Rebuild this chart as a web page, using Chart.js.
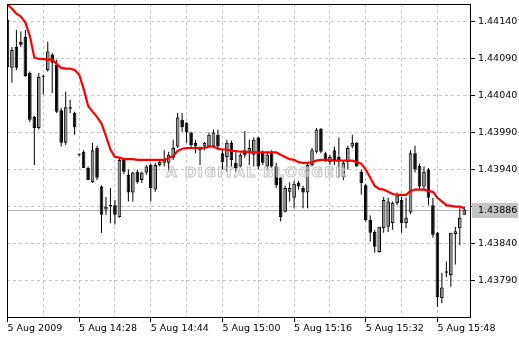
<!DOCTYPE html>
<html>
<head>
<meta charset="utf-8">
<script src="https://cdn.jsdelivr.net/npm/chart.js@4.4.1/dist/chart.umd.min.js"></script>
<style>
    html, body { margin: 0; padding: 0; background: #ffffff; }
    #grafica { display: block; }
</style>
</head>
<body>
<canvas id="grafica" width="519" height="338"></canvas>
<script>
    // velas de 1 minuto, 5 Aug 2009 14:12 - 15:54
    const opens  = [1.44142,1.44077,1.44105,1.44112,1.44119,1.44070,1.44011,1.43996,1.44066,1.44074,
                    1.44095,1.44081,1.44020,1.43976,1.44022,1.44016,1.43961,1.43964,1.43942,1.43923,
                    1.43969,1.43917,1.43886,1.43892,1.43892,1.43876,1.43953,1.43933,1.43909,1.43937,
                    1.43926,1.43936,1.43946,1.43913,1.43946,1.43949,1.43949,1.43956,1.43971,1.44007,
                    1.44003,1.43990,1.43976,1.43969,1.43971,1.43971,1.43971,1.43987,1.43962,1.43957,
                    1.43976,1.43949,1.43944,1.43966,1.43964,1.43960,1.43983,1.43964,1.43944,1.43962,
                    1.43944,1.43929,1.43883,1.43910,1.43902,1.43922,1.43915,1.43909,1.43946,1.43964,
                    1.43995,1.43962,1.43950,1.43966,1.43957,1.43930,1.43950,1.43971,1.43976,1.43937,
                    1.43919,1.43872,1.43856,1.43829,1.43861,1.43863,1.43868,1.43895,1.43899,1.43868,
                    1.43882,1.43962,1.43945,1.43917,1.43940,1.43892,1.43855,1.43767,1.43803,1.43798,
                    1.43853,1.43861,1.43879];
    const highs  = [1.44144,1.44105,1.44128,1.44126,1.44128,1.44072,1.44012,1.44070,1.44068,1.44112,
                    1.44097,1.44088,1.44023,1.44045,1.44034,1.44018,1.43962,1.43966,1.43944,1.43976,
                    1.43972,1.43919,1.43903,1.43915,1.43899,1.43957,1.43956,1.43940,1.43937,1.43940,
                    1.43937,1.43946,1.43948,1.43949,1.43953,1.43966,1.43964,1.43980,1.44016,1.44016,
                    1.44004,1.43991,1.43980,1.43971,1.43977,1.43990,1.43994,1.43994,1.43966,1.43980,
                    1.43979,1.43964,1.43962,1.43992,1.43980,1.43983,1.43984,1.43966,1.43964,1.43966,
                    1.43949,1.43930,1.43918,1.43923,1.43925,1.43925,1.43918,1.43949,1.43969,1.43996,
                    1.43996,1.43964,1.43960,1.43971,1.43983,1.43953,1.43972,1.43987,1.43977,1.43940,
                    1.43921,1.43878,1.43859,1.43863,1.43903,1.43902,1.43897,1.43909,1.43903,1.43902,
                    1.43966,1.43972,1.43948,1.43944,1.43942,1.43902,1.43856,1.43801,1.43816,1.43855,
                    1.43863,1.43888,1.43890];
    const lows   = [1.44077,1.44057,1.44074,1.44105,1.44065,1.44004,1.43946,1.43994,1.44041,1.44072,
                    1.44043,1.44016,1.43971,1.43973,1.44016,1.43987,1.43958,1.43942,1.43926,1.43922,
                    1.43926,1.43855,1.43879,1.43868,1.43866,1.43875,1.43934,1.43897,1.43897,1.43921,
                    1.43922,1.43933,1.43897,1.43910,1.43944,1.43944,1.43937,1.43953,1.43969,1.43991,
                    1.43976,1.43969,1.43962,1.43946,1.43966,1.43969,1.43969,1.43966,1.43940,1.43937,
                    1.43944,1.43937,1.43942,1.43956,1.43946,1.43944,1.43940,1.43946,1.43940,1.43942,
                    1.43915,1.43870,1.43882,1.43897,1.43888,1.43913,1.43888,1.43888,1.43944,1.43962,
                    1.43962,1.43950,1.43946,1.43946,1.43929,1.43926,1.43940,1.43969,1.43944,1.43906,
                    1.43870,1.43843,1.43828,1.43828,1.43855,1.43856,1.43859,1.43892,1.43855,1.43861,
                    1.43880,1.43936,1.43914,1.43913,1.43892,1.43848,1.43755,1.43760,1.43795,1.43782,
                    1.43812,1.43838,1.43879];
    const closes = [1.44078,1.44101,1.44077,1.44108,1.44066,1.44007,1.43996,1.44065,1.44065,1.44099,
                    1.44084,1.44018,1.43976,1.44024,1.44024,1.43997,1.43960,1.43942,1.43926,1.43966,
                    1.43929,1.43879,1.43890,1.43891,1.43879,1.43953,1.43937,1.43909,1.43936,1.43923,
                    1.43936,1.43944,1.43915,1.43946,1.43950,1.43953,1.43960,1.43969,1.44010,1.43997,
                    1.43990,1.43973,1.43971,1.43966,1.43976,1.43987,1.43990,1.43971,1.43950,1.43976,
                    1.43953,1.43942,1.43960,1.43960,1.43969,1.43980,1.43944,1.43949,1.43960,1.43944,
                    1.43919,1.43876,1.43915,1.43915,1.43921,1.43917,1.43909,1.43946,1.43966,1.43994,
                    1.43964,1.43953,1.43957,1.43953,1.43953,1.43949,1.43969,1.43976,1.43944,1.43922,
                    1.43872,1.43855,1.43836,1.43863,1.43899,1.43897,1.43895,1.43905,1.43868,1.43875,
                    1.43962,1.43940,1.43917,1.43937,1.43902,1.43852,1.43768,1.43781,1.43801,1.43855,
                    1.43857,1.43875,1.43886];
    // media movil (linea roja)
    const maValues = [1.44162,1.44157,1.44150,1.44146,1.44138,1.44120,1.44091,1.44089,1.44089,1.44088,
                      1.44088,1.44082,1.44077,1.44076,1.44076,1.44074,1.44068,1.44049,1.44026,1.44018,
                      1.44011,1.44002,1.43985,1.43967,1.43957,1.43956,1.43954,1.43954,1.43954,1.43953,
                      1.43953,1.43953,1.43953,1.43953,1.43953,1.43953,1.43956,1.43958,1.43965,1.43968,
                      1.43969,1.43969,1.43969,1.43969,1.43969,1.43971,1.43971,1.43968,1.43967,1.43967,
                      1.43965,1.43965,1.43964,1.43964,1.43963,1.43963,1.43963,1.43963,1.43963,1.43963,
                      1.43963,1.43960,1.43957,1.43954,1.43953,1.43950,1.43949,1.43949,1.43950,1.43952,
                      1.43953,1.43953,1.43953,1.43952,1.43952,1.43952,1.43952,1.43952,1.43950,1.43948,
                      1.43940,1.43929,1.43918,1.43914,1.43913,1.43910,1.43907,1.43906,1.43906,1.43906,
                      1.43911,1.43913,1.43913,1.43913,1.43911,1.43910,1.43902,1.43897,1.43892,1.43891,
                      1.43890,1.43890,1.43888];

    const gridBars   = [0, 8, 16, 24, 32, 40, 48, 56, 64, 72, 80, 88, 96];
    const tickBars   = [0, 16, 32, 48, 64, 80, 96];
    const tickLabels = ['5 Aug 2009', '5 Aug 14:28', '5 Aug 14:44', '5 Aug 15:00',
                        '5 Aug 15:16', '5 Aug 15:32', '5 Aug 15:48'];
    const yTicks     = [1.43790, 1.43840, 1.43890, 1.43940, 1.43990, 1.44040, 1.44090, 1.44140];
    const lastPrice  = 1.43886;

    const fuente = { family: 'DejaVu Sans', size: 9.5 };
    const indices = opens.map((_, i) => i);
    const esAlcista = i => closes[i] >= opens[i];

    // marco, linea de precio actual, marca de agua y etiqueta del precio
    const decoraciones = {
        id: 'decoraciones',
        beforeDatasetsDraw(chart) {
            const { ctx, chartArea: a, scales: { y } } = chart;
            const py = Math.round(y.getPixelForValue(lastPrice)) + 0.5;
            ctx.save();
            ctx.strokeStyle = '#b4b4b4';
            ctx.lineWidth = 1;
            ctx.beginPath();
            ctx.moveTo(a.left, py);
            ctx.lineTo(a.right, py);
            ctx.stroke();
            ctx.restore();
        },
        afterDatasetsDraw(chart) {
            const { ctx, chartArea: a } = chart;
            ctx.save();
            ctx.font = 'bold 14px "DejaVu Sans"';
            const texto = 'A DIGITAL BLOGGER';
            const w = ctx.measureText(texto).width;
            ctx.letterSpacing = ((180 - w) / 16).toFixed(2) + 'px';
            ctx.textBaseline = 'middle';
            ctx.textAlign = 'left';
            ctx.fillStyle = 'rgba(255,255,255,0.5)';
            ctx.strokeStyle = 'rgba(170,170,170,0.7)';
            ctx.lineWidth = 1;
            ctx.fillText(texto, 166, 173);
            ctx.strokeText(texto, 166, 173);
            ctx.restore();

            ctx.save();
            ctx.strokeStyle = '#000';
            ctx.lineWidth = 1;
            ctx.strokeRect(Math.round(a.left) + 0.5, Math.round(a.top) + 0.5,
                Math.round(a.right - a.left) - 1, Math.round(a.bottom - a.top) - 1);
            ctx.restore();
        },
        afterDraw(chart) {
            const { ctx, chartArea: a, scales: { y } } = chart;
            const py = Math.round(y.getPixelForValue(lastPrice));
            ctx.save();
            ctx.fillStyle = '#c4c4c4';
            ctx.fillRect(a.right + 1, py - 7, 46, 15);
            ctx.fillStyle = '#000';
            ctx.font = '9.5px "DejaVu Sans"';
            ctx.textBaseline = 'middle';
            ctx.textAlign = 'left';
            ctx.fillText(lastPrice.toFixed(5), a.right + 7, py + 1);
            ctx.restore();
        }
    };

    new Chart(document.getElementById('grafica'), {
        data: {
            datasets: [
                {
                    type: 'line',
                    label: 'MA',
                    data: maValues.map((v, i) => ({ x: i, y: v })),
                    borderColor: '#ff0000',
                    borderWidth: 2.2,
                    pointRadius: 0,
                    tension: 0,
                    order: 0
                },
                {
                    type: 'bar',
                    label: 'cuerpos',
                    data: indices.map(i => ({ x: i, y: [opens[i], closes[i]] })),
                    backgroundColor: indices.map(i => esAlcista(i) ? '#8e8e8e' : '#000000'),
                    borderColor: '#000000',
                    borderWidth: 1,
                    borderSkipped: false,
                    inflateAmount: 0,
                    barThickness: 3.6,
                    minBarLength: 1,
                    grouped: false,
                    order: 1
                },
                {
                    type: 'bar',
                    label: 'mechas',
                    data: indices.map(i => ({ x: i, y: [lows[i], highs[i]] })),
                    backgroundColor: '#000000',
                    borderWidth: 0,
                    inflateAmount: 0,
                    barThickness: 1,
                    grouped: false,
                    order: 2
                }
            ]
        },
        options: {
            responsive: false,
            animation: false,
            devicePixelRatio: 1,
            events: [],
            layout: { autoPadding: false, padding: { left: 7, top: 4, right: 0, bottom: 0 } },
            plugins: {
                legend: { display: false },
                tooltip: { enabled: false }
            },
            scales: {
                x: {
                    type: 'linear',
                    offset: false,
                    min: -0.1,
                    max: 103.5,
                    afterBuildTicks: s => { s.ticks = gridBars.map(v => ({ value: v })); },
                    afterFit: s => { s.height = 20; s.paddingLeft = 0; s.paddingRight = 0; },
                    ticks: {
                        autoSkip: false,
                        maxRotation: 0,
                        align: 'start',
                        padding: 1,
                        color: '#000',
                        font: fuente,
                        callback: v => {
                            const k = tickBars.indexOf(v);
                            return k >= 0 ? tickLabels[k] : '';
                        }
                    },
                    grid: {
                        offset: false,
                        color: '#c4c4c4',
                        tickLength: 4,
                        tickColor: ctx => (ctx.tick && tickBars.includes(ctx.tick.value)) ? '#000' : 'rgba(0,0,0,0)'
                    },
                    border: { display: false, dash: [3, 3] }
                },
                y: {
                    position: 'right',
                    min: 1.43740,
                    max: 1.44163,
                    afterBuildTicks: s => { s.ticks = yTicks.map(v => ({ value: v })); },
                    afterFit: s => { s.width = 48; s.paddingTop = 0; s.paddingBottom = 0; },
                    ticks: {
                        autoSkip: false,
                        padding: 3,
                        color: '#000',
                        font: fuente,
                        callback: v => Math.abs(v - 1.43890) < 1e-7 ? '' : v.toFixed(5)
                    },
                    grid: {
                        color: '#c4c4c4',
                        tickLength: 4,
                        tickColor: '#000'
                    },
                    border: { display: false, dash: [3, 3] }
                }
            }
        },
        plugins: [decoraciones]
    });
</script>
</body>
</html>
